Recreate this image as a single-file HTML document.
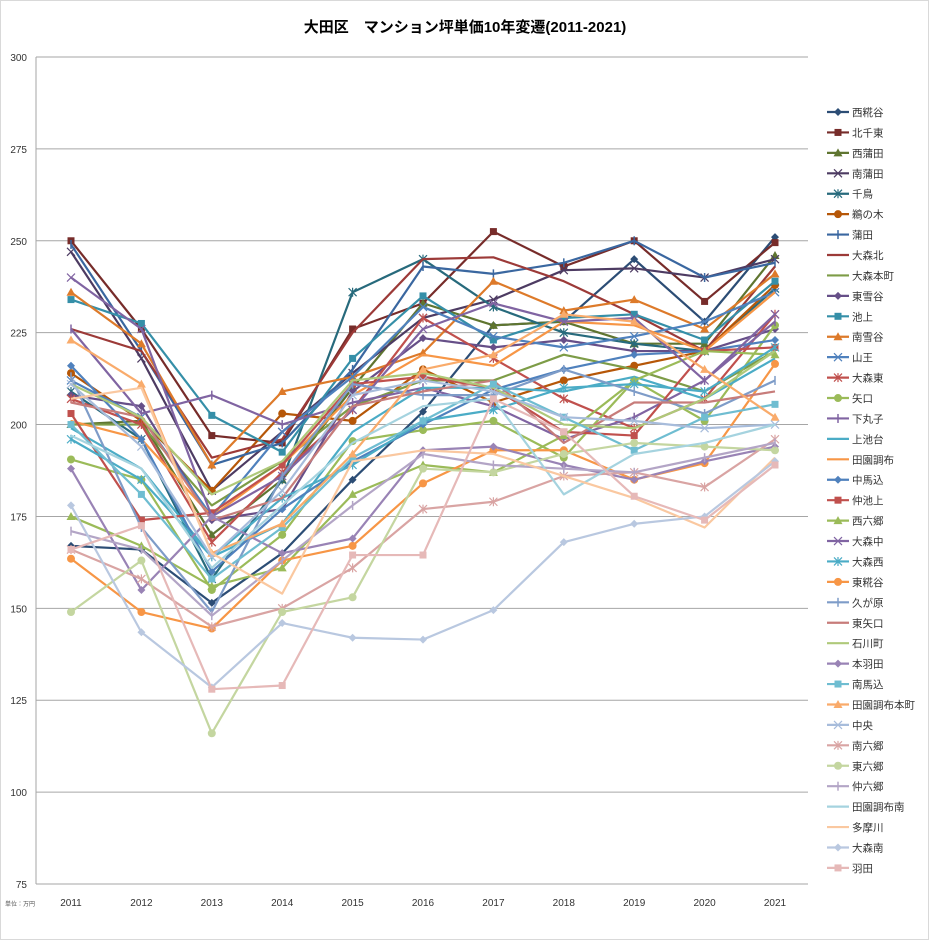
<!DOCTYPE html>
<html><head><meta charset="utf-8"><style>
html,body{margin:0;padding:0;background:#fff;}
svg{display:block;font-family:"Liberation Sans","Noto Sans CJK JP",sans-serif;}
</style></head><body>
<svg id="chart" width="929" height="940" xmlns="http://www.w3.org/2000/svg">
<rect x="0.5" y="0.5" width="928" height="939" fill="#fff" stroke="#d9d9d9"/>
<text x="465" y="32" text-anchor="middle" font-size="15" font-weight="bold" fill="#000">大田区　マンション坪単価10年変遷(2011-2021)</text>
<text x="5" y="906" font-size="6" fill="#555">単位：万円</text>
<g id="grid"></g>
<g id="yaxis"></g>
<g id="xaxis"></g>
<g id="series"></g>
<g id="legend"></g>
</svg>
<script>
const years = ["2011","2012","2013","2014","2015","2016","2017","2018","2019","2020","2021"];
const yTicks = [75,100,125,150,175,200,225,250,275,300];
const names = ["西糀谷","北千東","西蒲田","南蒲田","千鳥","鵜の木","蒲田","大森北","大森本町","東雪谷","池上","南雪谷","山王","大森東","矢口","下丸子","上池台","田園調布","中馬込","仲池上","西六郷","大森中","大森西","東糀谷","久が原","東矢口","石川町","本羽田","南馬込","田園調布本町","中央","南六郷","東六郷","仲六郷","田園調布南","多摩川","大森南","羽田"];
const s01 = [167,166,151.5,165,185,203.5,227,228,245,228,251];
const s02 = [250,226,197,195,226,233,252.5,243,250,233.5,249.5];
const s03 = [200,201,170,185,210,233,227,228,222,222,246];
const s04 = [247,218,182,198,214,229,234,242,242.5,240,245];
const s05 = [209,196,158,185,236,245,232,225,222,220,237];
const s06 = [214,201,182,203,201,215,206,212,216,220,238];
const s07 = [249,220,189,195,215,243,241,244,250,240,244];
const s08 = [226,220,191,196,225,245,245.5,239,230,220,243];
const s09 = [200,200,178,190,205,212,212,219,215,209,220];
const s10 = [208,205,174,177,209,223.5,221,223,220,220,226];
const s11 = [234,227.5,202.5,192.5,218,235,223,229,230,223,239];
const s12 = [236,222,189,209,213,219.5,239,231,234,226,241];
const s13 = [212,202,175,198,213,232,224,221,224,228,236];
const s14 = [207,200,168,187,204,229,218,207,199,207,230];
const s15 = [190.5,185,155,170,195.5,198.5,201,191,212,201,227];
const s16 = [226,203,208,200,206,210,205,196,202,212,228];
const s17 = [199,188,164,173,198,210,210,209,213,207,218];
const s18 = [201,196,175,189,208,219,216,228,227,220,236];
const s19 = [216,196,160,177,190,200,209.5,215,219,220,223];
const s20 = [203,174,176,189,211,213,210,198,197,220,221];
const s21 = [175,167,156,161,181,189,187,197,212,220,219];
const s22 = [240,226,175,186,204,226,233,228,229,212,230];
const s23 = [196,185,164,180,189,201,204,210,211,209,221];
const s24 = [163.5,149,144.5,163,167,184,193,193,185,189.5,216.5];
const s25 = [213,172,149,186,211,208,208,215,209,203,212];
const s26 = [206,202,174,180,205,209,212,195,206,206,209];
const s27 = [211,202,181,190,212,214,210,200,199,207,220];
const s28 = [188,155,175,165,169,193,194,189,185,190,194];
const s29 = [200,181,158,172,191,201,211,202,193,202,205.5];
const s30 = [223,211,165,173,192,215,219,230,228,215,202];
const s31 = [211,194,164,182,208,212,209,202,201,199,200];
const s32 = [166,158,145,150,161,177,179,186,187,183,196];
const s33 = [149,163,116,149,153,188,187,192,195,194,193];
const s34 = [171,166,148,163,178,192,189,188,187,191,195];
const s35 = [197,188,161,178,195,205,207,181,192,195,200];
const s36 = [207,210,165,154,190,193,192,186,180,172,191];
const s37 = [178,143.5,128.5,146,142,141.5,149.5,168,173,175,190];
const s38 = [166,172.5,128,129,164.5,164.5,207,198,180.5,174,189];
const seriesValues = [s01,s02,s03,s04,s05,s06,s07,s08,s09,s10,s11,s12,s13,s14,s15,s16,s17,s18,s19,s20,s21,s22,s23,s24,s25,s26,s27,s28,s29,s30,s31,s32,s33,s34,s35,s36,s37,s38];

const colors = ["#2c4d75","#772c2a","#5f7530","#4d3b62","#276a7c","#b65708","#3a67a0","#9c3a38","#7d9c47","#664f88","#358fa8","#dd7a2a","#4f81bd","#c0504d","#9bbb59","#8064a2","#4bacc6","#f79646","#4f81bd","#c0504d","#9bbb59","#8064a2","#4bacc6","#f79646","#7e9cc8","#c77c7a","#afc97a","#9983b5","#6fbdd1","#f9ab6b","#a7bcdb","#d9a4a3","#c4d6a0","#b3a5c6","#a5d3df","#fac8a0","#b9c8e0","#e6b9b8"];
const markers = ["diamond","square","triangle","x","star","circle","plus","none","none"];
function markerOf(i){ const m=["diamond","square","triangle","x","star","circle","plus","none","none"]; return m[i%9]; }

const NS="http://www.w3.org/2000/svg";
const X0=71, XSTEP=70.4, YTOP=57, YBOT=884, VMIN=75, VMAX=300;
function xs(i){ return X0 + i*XSTEP; }
function ys(v){ return YBOT - (v-VMIN)/(VMAX-VMIN)*(YBOT-YTOP); }
function mk(tag, attrs, parent){ const e=document.createElementNS(NS,tag); for(const k in attrs) e.setAttribute(k,attrs[k]); parent.appendChild(e); return e; }

const grid=document.getElementById('grid'), yax=document.getElementById('yaxis'), xax=document.getElementById('xaxis');
yTicks.forEach(t=>{
  const l=mk('line',{x1:36,x2:808,y1:ys(t),y2:ys(t),stroke:'#a6a6a6','stroke-width':1},grid);
  
  
  const tx=mk('text',{x:27,y:ys(t)+4,'text-anchor':'end','font-size':10,fill:'#333'},yax);
  tx.textContent=t;
  
  
});
const axl=mk('line',{x1:36,x2:36,y1:YTOP,y2:YBOT,stroke:'#a6a6a6'},yax);


years.forEach((y,i)=>{
  const tx=mk('text',{x:xs(i),y:906,'text-anchor':'middle','font-size':10,fill:'#333'},xax);
  tx.textContent=y;
  
  
});

function drawMarker(type,cx,cy,col,parent){
  let e=null;
  if(type==='diamond') e=mk('polygon',{points:`${cx},${cy-4} ${cx+4},${cy} ${cx},${cy+4} ${cx-4},${cy}`,fill:col},parent);
  else if(type==='square') e=mk('rect',{x:cx-3.5,y:cy-3.5,width:7,height:7,fill:col},parent);
  else if(type==='triangle') e=mk('polygon',{points:`${cx},${cy-4.5} ${cx+4.5},${cy+3.5} ${cx-4.5},${cy+3.5}`,fill:col},parent);
  else if(type==='circle') e=mk('circle',{cx:cx,cy:cy,r:4,fill:col},parent);
  else if(type==='x') e=mk('path',{d:`M${cx-4},${cy-4}L${cx+4},${cy+4}M${cx-4},${cy+4}L${cx+4},${cy-4}`,stroke:col,'stroke-width':1.2},parent);
  else if(type==='star') e=mk('path',{d:`M${cx-4},${cy-4}L${cx+4},${cy+4}M${cx-4},${cy+4}L${cx+4},${cy-4}M${cx},${cy-4.5}L${cx},${cy+4.5}`,stroke:col,'stroke-width':1.2},parent);
  else if(type==='plus') e=mk('path',{d:`M${cx},${cy-4.5}L${cx},${cy+4.5}`,stroke:col,'stroke-width':1.5},parent);
  if(e){
    
    
  }
}

const sg=document.getElementById('series'), lg=document.getElementById('legend');
seriesValues.forEach((vals,si)=>{
  const col=colors[si], mt=markerOf(si);
  const g=mk('g',{},sg);
  
  
  const pts=vals.map((v,i)=>xs(i)+','+ys(v)).join(' ');
  const pl=mk('polyline',{points:pts,fill:'none',stroke:col,'stroke-width':2.2,'stroke-linejoin':'round'},g);
  
  
  vals.forEach((v,i)=>drawMarker(mt,xs(i),ys(v),col,g));
  // legend
  const ly=112+si*20.43;
  const le=mk('g',{},lg);
  
  
  const ll=mk('line',{x1:827,x2:849,y1:ly,y2:ly,stroke:col,'stroke-width':2.2},le);
  
  
  drawMarker(mt,838,ly,col,le);
  const lt=mk('text',{x:852,y:ly+4,'font-size':10.5,fill:'#333'},le);
  lt.textContent=names[si];
  
  
});
</script>
</body></html>
